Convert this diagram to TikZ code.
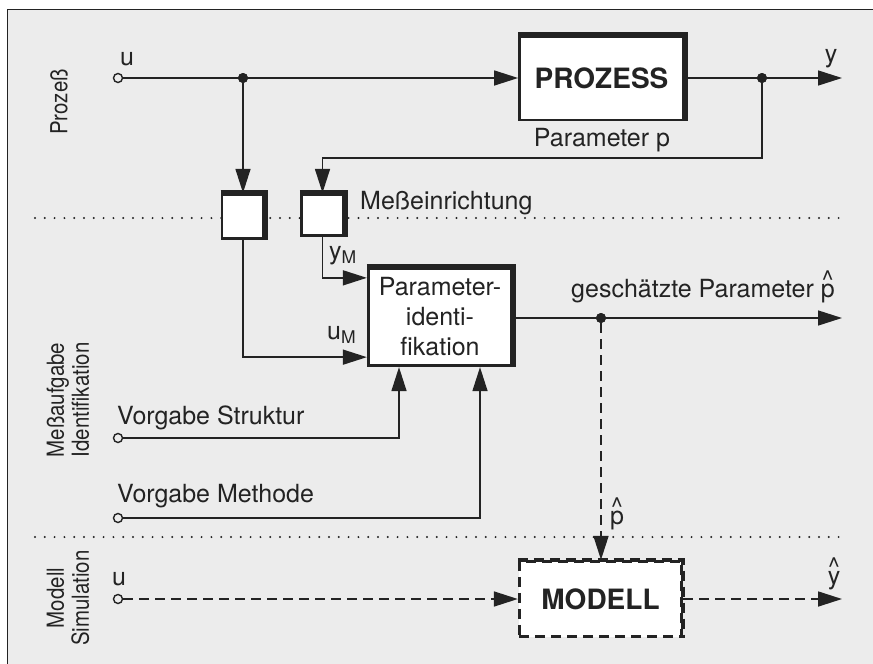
\documentclass[tikz,border=0pt]{standalone}
\usepackage{fontspec}
\setmainfont{TeX Gyre Heros}
\newfontfamily\rotfont{TeX Gyre Heros}[FakeStretch=0.87]
\usetikzlibrary{arrows.meta,calc}
\definecolor{bg}{RGB}{236,236,236}
\definecolor{ink}{RGB}{35,35,35}
\newcommand\hatted[1]{\leavevmode\setbox0=\hbox{#1}\hbox to \wd0{\hss\raisebox{0.36em}{\textasciicircum}\hss}\kern-\wd0\box0}
\begin{document}
\begin{tikzpicture}[x=1pt,y=-1pt,
  font=\fontsize{25}{30}\selectfont,
  arr/.style={-{Triangle[length=24pt,width=15pt]}},
  sig/.style={draw=ink, line width=1.5pt},
  dsig/.style={draw=ink, line width=1.7pt, dash pattern=on 10pt off 6pt},
  sep/.style={draw=ink, line width=2.2pt, dash pattern=on 0pt off 9.8pt, line cap=round},
  term/.style={circle, draw=ink, fill=bg, line width=1.4pt, inner sep=0pt, minimum size=9pt},
  dot/.style={circle, fill=ink, inner sep=0pt, minimum size=10pt},
  blk/.style={draw=ink, fill=white, line width=2.8pt, inner sep=0pt, text=ink},
  shade/.style={draw=ink, line width=6pt, line join=miter},
  lbl/.style={inner sep=0pt, text=ink},
  rlbl/.style={inner sep=0pt, text=ink, rotate=90, align=center, font=\rotfont\fontsize{23.5}{25}\selectfont}
]
\useasboundingbox (0,0) rectangle (873,664);
\fill[white] (0,0) rectangle (873,664);
\fill[bg] (7.5,9.5) rectangle (873,664);
\draw[ink, line width=1.3pt] (873,9.5) -- (7.5,9.5) -- (7.5,664);

% separators
\draw[sep] (35,218) -- (840,218);
\draw[sep] (35,537) -- (840,537);

% side labels
\node[rlbl] (lprozess) at (59,102) {Prozeß};
\node[rlbl] (lmess) at (68,400) {Meßaufgabe\\Identifikation};
\node[rlbl] (lmodell) at (68,598) {Modell\\Simulation};

% blocks
\node[blk, minimum width=164pt, minimum height=84pt, font=\fontsize{28}{32}\selectfont\bfseries] (proc) at (601.5,78) {PROZESS};
\draw[shade] (proc.north west) -- (proc.north east) -- (proc.south east);
\node[blk, minimum width=42pt, minimum height=44.5pt] (m1) at (243,216.5) {};
\draw[shade] (m1.north west) -- (m1.north east) -- (m1.south east);
\node[blk, minimum width=42.5pt, minimum height=41.5pt] (m2) at (322.5,215) {};
\draw[shade] (m2.north west) -- (m2.north east) -- (m2.south east);
\node[blk, minimum width=143.5pt, minimum height=97.5pt, align=center] (pi) at (440,317) {Parameter-\\identi-\\fikation};
\draw[shade] (pi.north west) -- (pi.north east) -- (pi.south east);
\node[blk, dash pattern=on 10pt off 6pt, minimum width=162.5pt, minimum height=75.5pt, font=\fontsize{28}{32}\selectfont\bfseries] (model) at (600.5,599) {MODELL};
\draw[shade, line width=4.5pt, dash pattern=on 10pt off 6pt] (model.north west) -- (model.north east) -- (model.south east);

% terminals and junctions
\node[term] (u1) at (118,78) {};
\node[dot] (j1) at (243,78) {};
\node[dot] (j2) at (762,78) {};
\coordinate (yout) at (842,78);
\coordinate (k) at (762,158);
\node[term] (vs) at (118,438) {};
\node[term] (vm) at (118,518) {};
\node[dot] (j3) at (601,318) {};
\coordinate (pout) at (842,318);
\node[term] (u2) at (118,599) {};
\coordinate (yhout) at (842,599);

% connectors
\draw[sig, arr] (u1) -- (proc.west |- u1);
\draw[sig, arr] (j1) -- (m1.north);
\draw[sig, arr] (proc.east |- j2) -- (yout);
\draw[sig, arr] (j2) -- (k) -| (m2.north);
\draw[sig, arr] (m1.south) |- ([yshift=10pt]pi.south west);
\draw[sig, arr] (m2.south) |- ([yshift=-11pt]pi.north west);
\draw[sig, arr] (vs) -| ([xshift=-41pt]pi.south);
\draw[sig, arr] (vm) -| ([xshift=40pt]pi.south);
\draw[sig, arr] (pi.east |- j3) -- (pout);
\draw[dsig, arr] (j3) -- (j3 |- model.north);
\draw[dsig, arr] (u2) -- (model.west |- u2);
\draw[dsig, arr] (model.east |- u2) -- (yhout);
\node[dot] at (j1) {};
\node[dot] at (j2) {};
\node[dot] at (j3) {};

% labels
\node[lbl, anchor=base] (lu1) at (127,65) {u};
\node[lbl, anchor=base] (ly) at (831,62) {y};
\node[lbl, anchor=base] (lpp) at (602,146) {Parameter p};
\node[lbl, anchor=base west] (lmess2) at (360,209) {Meßeinrichtung};
\node[lbl, anchor=base west] (lym) at (329,259) {y\textsubscript{M}};
\node[lbl, anchor=base west] (lum) at (327,339) {u\textsubscript{M}};
\node[lbl, anchor=base west] (lgp) at (571,297) {geschätzte Parameter \hatted{p}};
\node[lbl, anchor=base west] (lvs) at (117,424) {Vorgabe Struktur};
\node[lbl, anchor=base west] (lvm) at (117,502) {Vorgabe Methode};
\node[lbl, anchor=base] (lu2) at (119,585) {u};
\node[lbl, anchor=base] (lph) at (617,524) {\hatted{p}};
\node[lbl, anchor=base] (lyh) at (834,584) {\hatted{y}};
\end{tikzpicture}
\end{document}
